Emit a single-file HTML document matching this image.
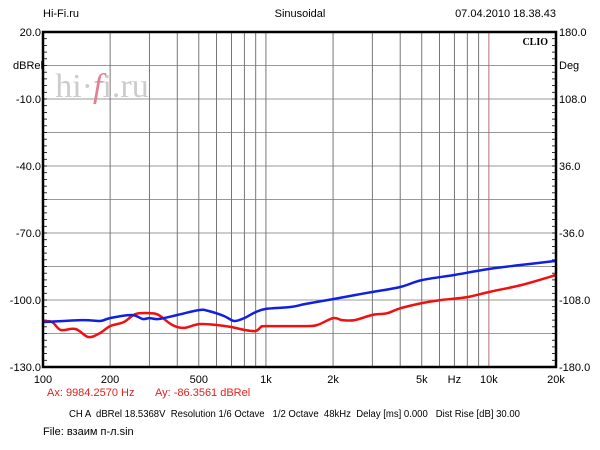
<!DOCTYPE html>
<html><head><meta charset="utf-8"><style>
body{margin:0;background:#fff;}
svg{display:block;font-family:"Liberation Sans",sans-serif;}
</style></head><body>
<svg id="c" width="600" height="450">
<text x="43" y="17" font-size="11">Hi-Fi.ru</text>
<text x="300" y="17" font-size="11" text-anchor="middle">Sinusoidal</text>
<text x="556" y="17" font-size="11" text-anchor="end">07.04.2010 18.38.43</text>
<g id="grid"></g>
<text x="102" y="97" font-size="34" font-family="Liberation Serif,serif" fill="#ccc" text-anchor="middle">hi·<tspan fill="#e08090" font-style="italic">f</tspan>i.ru</text>
<g id="series"></g>
<rect x="43" y="32" width="513" height="335" fill="none" stroke="#000" stroke-width="2.5"/>
<text x="548" y="45" font-size="10" font-weight="bold" font-family="Liberation Serif,serif" text-anchor="end">CLIO</text>
<g id="labels"></g>
<text x="43" y="69" font-size="11" text-anchor="end">dBRel</text>
<text x="559" y="69" font-size="11">Deg</text>
<text x="47" y="396" font-size="11" fill="#e0201f">Ax: 9984.2570 Hz</text>
<text x="155" y="396" font-size="11" fill="#e0201f">Ay: -86.3561 dBRel</text>
<text x="69" y="417" font-size="10" textLength="451" lengthAdjust="spacingAndGlyphs" xml:space="preserve">CH A  dBRel 18.5368V  Resolution 1/6 Octave   1/2 Octave  48kHz  Delay [ms] 0.000   Dist Rise [dB] 30.00</text>
<text x="43" y="435" font-size="11">File: взаим п-л.sin</text>
</svg>
<script>
const freqBlue=[100,150,180,200,250,280,300,330,400,500,550,650,720,800,900,1000,1300,1500,2000,2500,3000,4000,5000,7000,10000,14000,20000];
const dbBlue=[-109.9,-109,-109.4,-108.1,-106.7,-108.5,-108.1,-108.5,-106.7,-104.5,-104.9,-107.2,-109.4,-108.1,-105.4,-104,-103.1,-101.8,-99.6,-97.8,-96.4,-94.2,-91.1,-88.8,-86.1,-84.3,-82.5];
const freqRed=[100,110,120,140,160,180,200,230,260,300,330,380,430,500,600,700,800,900,950,1000,1500,1700,2000,2200,2500,3000,3500,4000,5000,6000,8000,10000,14000,20000];
const dbRed=[-109.4,-109.9,-113.4,-113,-116.6,-114.8,-111.7,-109.9,-106.3,-105.9,-106.7,-111.2,-112.5,-110.8,-111.2,-112.1,-113.4,-113.9,-112.1,-111.7,-111.7,-111.2,-108.1,-109,-109,-106.7,-105.9,-103.7,-101.4,-100.1,-98.7,-96.4,-93.3,-88.8];
const yTicks=[20,-10,-40,-70,-100,-130];
const yTickLabels=["20.0","-10.0","-40.0","-70.0","-100.0","-130.0"];
const y2TickLabels=["180.0","108.0","36.0","-36.0","-108.0","-180.0"];
const xTicks=[100,200,500,1000,2000,5000,10000,20000];
const xTickLabels=["100","200","500","1k","2k","5k","10k","20k"];
const L=43,R=556,T=32,B=367,NS='http://www.w3.org/2000/svg';
const X=f=>L+(Math.log10(f)-2)/Math.log10(200)*(R-L);
const Y=d=>T+(20-d)/150*(B-T);
function mk(tag,attrs,parent){const e=document.createElementNS(NS,tag);for(const k in attrs)e.setAttribute(k,attrs[k]);parent.appendChild(e);return e;}
const grid=document.getElementById('grid'),lab=document.getElementById('labels'),ser=document.getElementById('series');
for(let dec=100;dec<=10000;dec*=10){for(let m=1;m<10;m++){const f=dec*m;if(f<=100||f>=20000)continue;
 const l=mk('line',{x1:X(f),x2:X(f),y1:T,y2:B,stroke:f===10000?'#a05050':'#555','stroke-width':0.8},grid);
 
 }}
for(let d=5;d>-130;d-=15){const l=mk('line',{x1:L,x2:R,y1:Y(d),y2:Y(d),stroke:'#777','stroke-width':0.8},grid);
 
 }
for(let d=20;d>=-130;d-=3){for(const [a,b] of [[L,L+4],[R-4,R]]){const t=mk('line',{x1:a,x2:b,y1:Y(d),y2:Y(d),stroke:'#000','stroke-width':0.8},grid);
 
 }}
yTicks.forEach((d,i)=>{
 const t=mk('text',{x:L-2,y:Y(d)+4,'font-size':11,'text-anchor':'end'},lab);t.textContent=yTickLabels[i];
 
 
 const t2=mk('text',{x:R+3,y:Y(d)+4,'font-size':11},lab);t2.textContent=y2TickLabels[i];
 
 });
xTicks.forEach((f,i)=>{const t=mk('text',{x:X(f),y:383,'font-size':11,'text-anchor':'middle'},lab);t.textContent=xTickLabels[i];
 
 });
const hz=mk('text',{x:X(7000),y:383,'font-size':11,'text-anchor':'middle'},lab);hz.textContent='Hz';


function line(fs,ds,col,name){
 const P=fs.map((f,i)=>[X(f),Y(ds[i])]);
 let d='M'+P[0][0].toFixed(1)+','+P[0][1].toFixed(1);
 for(let i=0;i<P.length-1;i++){const p0=P[Math.max(0,i-1)],p1=P[i],p2=P[i+1],p3=P[Math.min(P.length-1,i+2)];
  const c1=[p1[0]+(p2[0]-p0[0])/6,p1[1]+(p2[1]-p0[1])/6],c2=[p2[0]-(p3[0]-p1[0])/6,p2[1]-(p3[1]-p1[1])/6];
  d+=' C'+c1.map(v=>v.toFixed(1)).join(',')+' '+c2.map(v=>v.toFixed(1)).join(',')+' '+p2[0].toFixed(1)+','+p2[1].toFixed(1);}
 const p=mk('path',{d:d,fill:'none',stroke:col,'stroke-width':2.5,'stroke-linejoin':'round'},ser);
 
 }
line(freqRed,dbRed,'#f01010','red-trace');
line(freqBlue,dbBlue,'#1020e0','blue-trace');
</script>
</body></html>
